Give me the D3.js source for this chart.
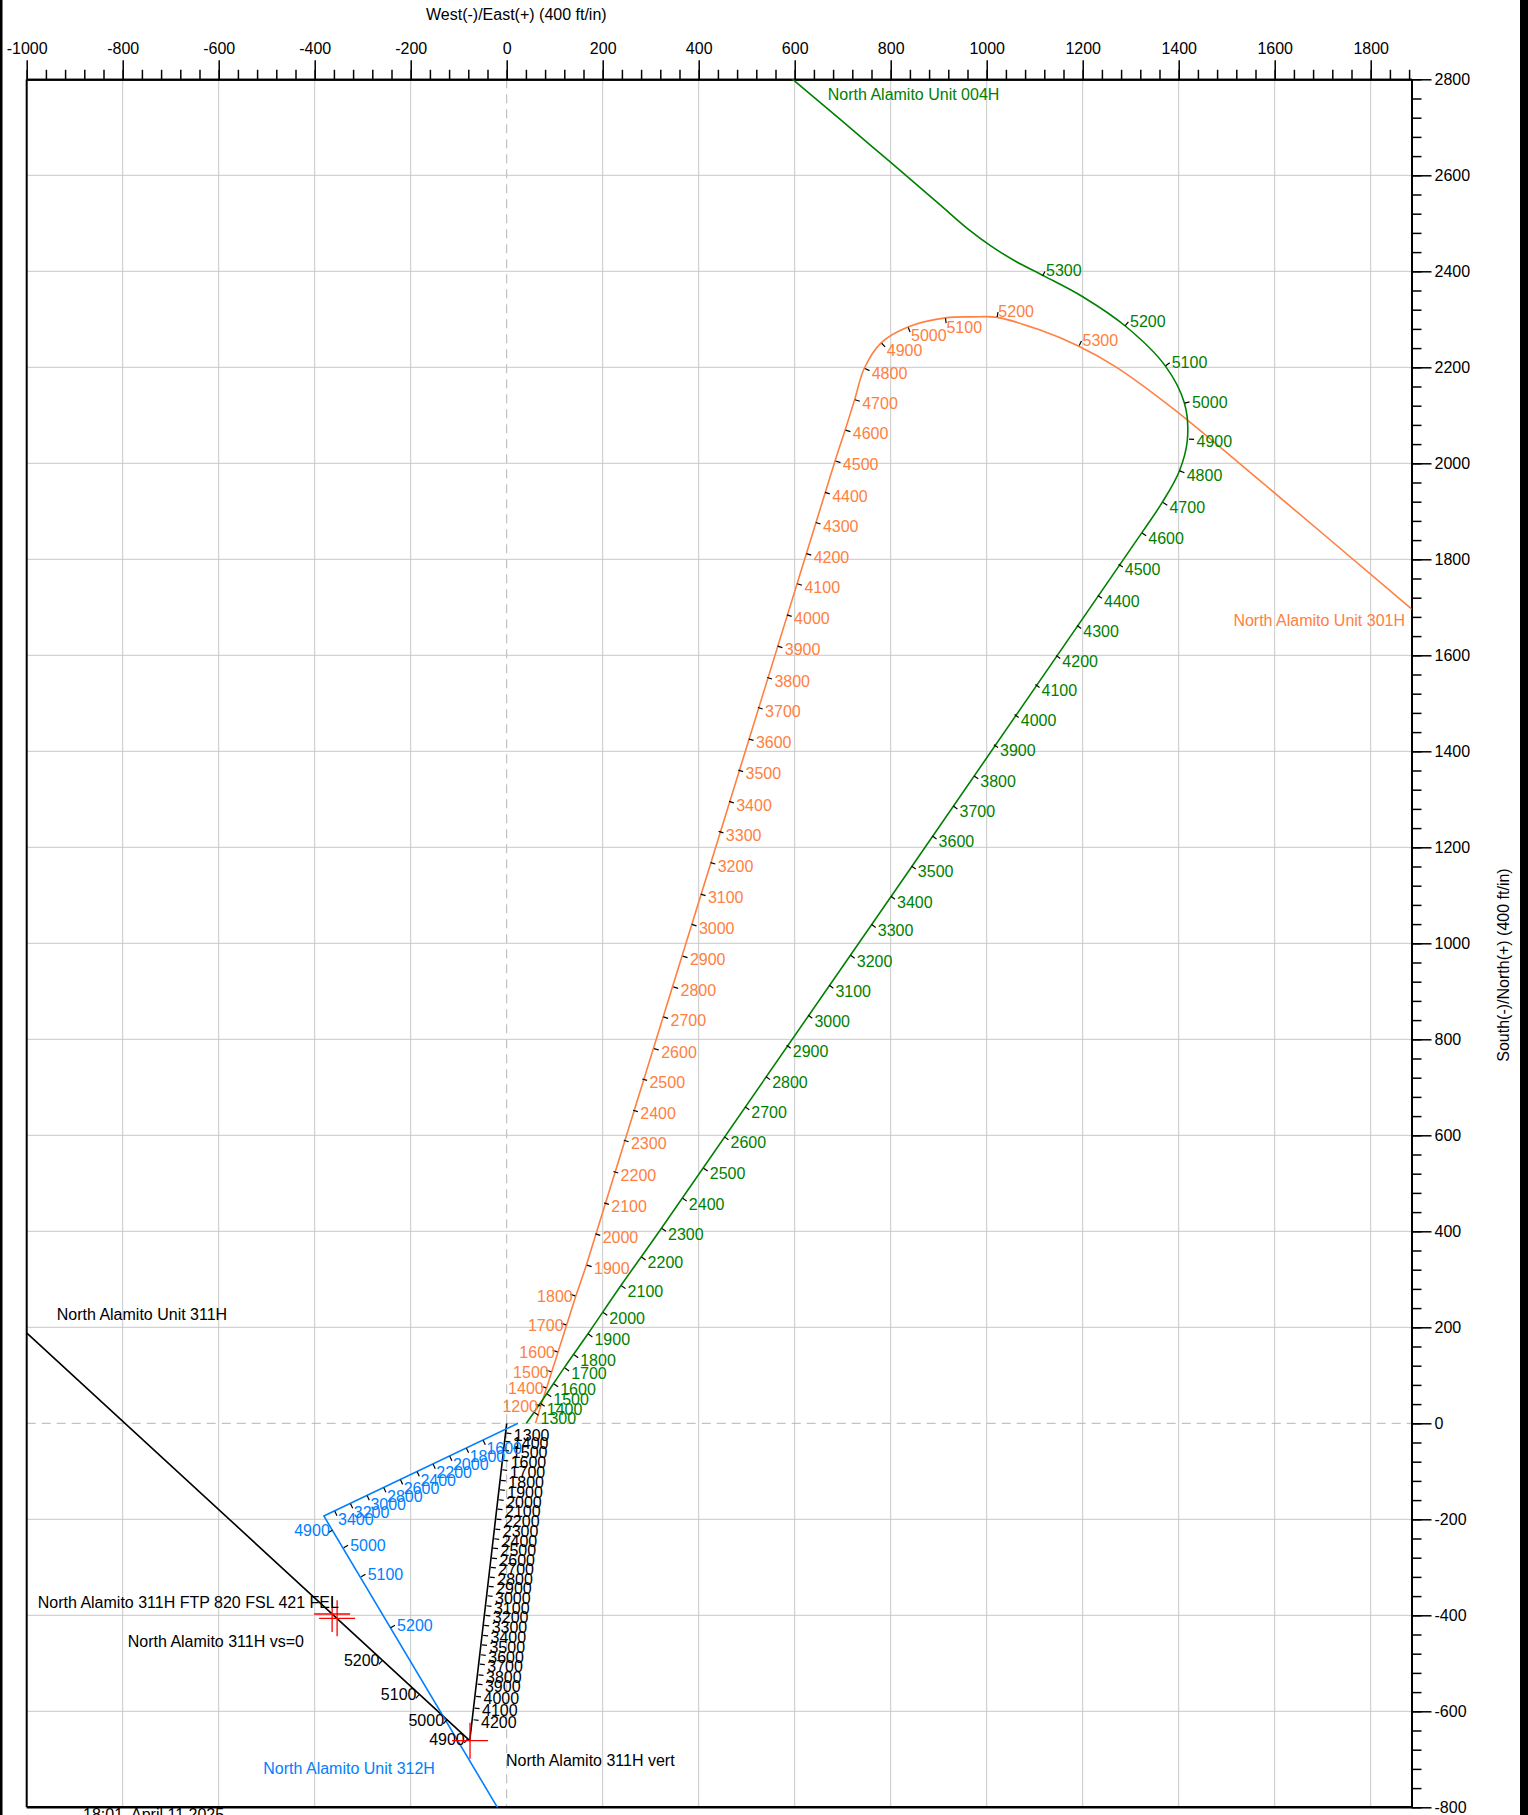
<!DOCTYPE html>
<html>
<head>
<meta charset="utf-8">
<script src="https://cdnjs.cloudflare.com/ajax/libs/d3/7.8.5/d3.min.js"></script>
<style>
  body { margin: 0; background: #fff; }
  svg { display: block; font-family: "Liberation Sans", Arial, Helvetica, sans-serif; }
</style>
</head>
<body>
<svg id="chart" width="1528" height="1815"></svg>
<script>
// axis ticks (ft)
var xTicks = [-1000, -800, -600, -400, -200, 0, 200, 400, 600, 800, 1000, 1200, 1400, 1600, 1800];
var yTicks = [2800, 2600, 2400, 2200, 2000, 1800, 1600, 1400, 1200, 1000, 800, 600, 400, 200, 0, -200, -400, -600, -800];

// well plan paths [east, north] in ft
var path004H = [[41, 0], [57, 23], [83, 61], [120, 116], [169, 186], [238, 287], [322, 406], [1323, 1855],
    [1366, 1919], [1401, 1983], [1418, 2048], [1412, 2125], [1372, 2203], [1290, 2285], [1200, 2347],
    [1120, 2390], [1060, 2421], [1010, 2452], [960, 2489], [900, 2541], [760, 2661], [597, 2799],
    [560, 2830]];
var path301H = [[60, 0], [71, 36], [83, 73.5], [107, 148.5], [144, 265], [166, 330], [684, 2005],
    [705, 2069], [725, 2133], [745, 2198], [780, 2251], [836, 2284], [914, 2303], [971, 2305],
    [1022, 2304], [1110, 2278], [1192, 2244], [1269, 2201], [1387, 2115], [1568, 1965], [1880, 1701],
    [1930, 1659]];
var path312H = [[23.5, 0], [-381, -193], [-19.4, -800], [-1, -830]];
var path311H = [[0, 0], [-77, -661], [-999, 187.5], [-1010, 197.6]];

// depth ticks [tvd, east, north]
var ticks004H = [[1300, 56.8, 23.1], [1400, 69.7, 41.9], [1500, 83.3, 61.5], [1600, 97.6, 82.3],
    [1700, 120.5, 115.6], [1800, 139.5, 143.3], [1900, 169.1, 186.5], [2000, 200.1, 231.5],
    [2100, 238.2, 287.1], [2200, 280, 347], [2300, 322.5, 406.5], [2400, 365.8, 469.4],
    [2500, 409.3, 532.1], [2600, 452.6, 597.3], [2700, 495.9, 659.8], [2800, 539.3, 722.5],
    [2900, 582.3, 788.1], [3000, 627.3, 850.6], [3100, 671.1, 913.1], [3200, 715.6, 975.6],
    [3300, 759.3, 1039.6], [3400, 799.5, 1098.5], [3500, 842.8, 1161.2], [3600, 886.1, 1224],
    [3700, 929.6, 1286.5], [3800, 972.9, 1349.2], [3900, 1014, 1414.4], [4000, 1057.2, 1477.1],
    [4100, 1100.6, 1539.6], [4200, 1143.9, 1600], [4300, 1187.4, 1662.5], [4400, 1230.7, 1725.2],
    [4500, 1274, 1790.4], [4600, 1322.8, 1855.4], [4700, 1366.5, 1918.7], [4800, 1401.2, 1984.6],
    [4900, 1420.6, 2050.6], [5000, 1411.6, 2125], [5100, 1372, 2202.7], [5200, 1288, 2286],
    [5300, 1116, 2389.4]];
var ticks301H = [[1200, 71.4, 36], [1400, 83.3, 73.5], [1500, 93.7, 107], [1600, 106.8, 148.5],
    [1700, 124.7, 204.8], [1800, 143.7, 265], [1900, 166, 329.8], [2000, 184, 394.8],
    [2100, 202, 459.4], [2200, 221.4, 524.8], [2300, 243, 590], [2400, 262.3, 652.6],
    [2500, 281.5, 717.7], [2600, 306, 781], [2700, 325.4, 847], [2800, 346.2, 909.6],
    [2900, 365.8, 973.5], [3000, 384.5, 1039.6], [3100, 403.3, 1102.7], [3200, 423.7, 1168.5],
    [3300, 440.6, 1233.5], [3400, 462.2, 1296], [3500, 481.6, 1361], [3600, 503.2, 1426],
    [3700, 522.4, 1491.5], [3800, 541.8, 1554], [3900, 563.4, 1619.4], [4000, 582.8, 1684.4],
    [4100, 604.4, 1749.4], [4200, 623.6, 1812], [4300, 642.9, 1877], [4400, 662.1, 1939.8],
    [4500, 684.4, 2005], [4600, 705.1, 2069.4], [4700, 724.7, 2132.7], [4800, 745.4, 2197.9],
    [4900, 780.4, 2250.8], [5000, 836.2, 2284], [5100, 914, 2303.3], [5200, 1021.7, 2303.7],
    [5300, 1192.4, 2244.4]];
var ticks312H = [[1600, -49.5, -34.4], [1800, -84.3, -51], [2000, -119.1, -67.7], [2200, -153.7, -84.2],
    [2400, -187, -100.2], [2600, -221.7, -116.9], [2800, -256.5, -133.5], [3000, -291.1, -150],
    [3200, -325.8, -166.7], [3400, -358.5, -182.3], [4900, -362.3, -222.3], [5000, -340.4, -259.8],
    [5100, -304, -320.2], [5200, -242.6, -426.5]];
var ticks311H = [[1300, -1.7, -20.2], [1400, -3.7, -37.5], [1500, -5.8, -56.3], [1600, -8.3, -77.1],
    [1700, -10.4, -96.7], [1800, -13.1, -118.8], [1900, -15.4, -138.3], [2000, -17.7, -159.2],
    [2100, -20, -178.5], [2200, -22.3, -199.4], [2300, -24.8, -220.2], [2400, -27.1, -240.4],
    [2500, -29.4, -259.8], [2600, -31.7, -280.6], [2700, -33.9, -300], [2800, -36.2, -320.2],
    [2900, -38.5, -339.6], [3000, -40.8, -359.2], [3100, -43.1, -380], [3200, -45.4, -400],
    [3300, -47.9, -420.8], [3400, -50.2, -441.7], [3500, -52.5, -461.3], [3600, -55, -482.1],
    [3700, -57, -501.5], [3800, -59.7, -523.8], [3900, -61.8, -543.1], [4000, -64.9, -568.8],
    [4100, -67.9, -593.1], [4200, -70, -617.5], [4900, -81.2, -657], [5000, -124.3, -617.5],
    [5100, -181.8, -564.6], [5200, -258.8, -493.8]];

// target crosses [east, north]
var targets = [[-363.7, -397.3], [-353.3, -406.2], [-76.4, -661.2]];

// annotations [text, east, north]
var notes004H = ["North Alamito Unit 004H", 668.8, 2756.9];
var notes301H = ["North Alamito Unit 301H", 1871.5, 1661];
var notes311H = ["North Alamito Unit 311H", -937.5, 215.2];
var notes312H = ["North Alamito Unit 312H", -507.1, -729.6];
var notesFTP = ["North Alamito 311H FTP 820 FSL 421 FEL", -977.1, -385.4];
var notesVS = ["North Alamito 311H vs=0", -789.6, -465.4];
var notesVert = ["North Alamito 311H vert", -1.5, -714];

var wells = [
    {path: path311H, ticks: ticks311H, color: "#000000", smooth: false, flip: [4900, 5000, 5100, 5200]},
    {path: path312H, ticks: ticks312H, color: "#0080ff", smooth: false, flip: [4900]},
    {path: path301H, ticks: ticks301H, color: "#ff8040", smooth: true, flip: [1200, 1400, 1500, 1600, 1700, 1800]},
    {path: path004H, ticks: ticks004H, color: "#008000", smooth: true, flip: []}
];

var W = 1528, H = 1815;
var x = d3.scaleLinear().domain([-1000, 1885]).range([26.7, 1411.5]);
var y = d3.scaleLinear().domain([-800, 2800]).range([1807.3, 79.3]);

var svg = d3.select("#chart");
svg.append("rect").attr("width", W).attr("height", H).attr("fill", "#fff");

svg.append("defs").append("clipPath").attr("id", "plot")
    .append("rect")
    .attr("x", x(-1000)).attr("y", y(2800))
    .attr("width", x(1885) - x(-1000)).attr("height", y(-800) - y(2800));

// grid
var grid = svg.append("g");
grid.selectAll(".gv").data(xTicks.filter(function(d) { return d > -1000; }))
    .enter().append("line")
    .attr("x1", function(d) { return x(d); }).attr("x2", function(d) { return x(d); })
    .attr("y1", y(2800)).attr("y2", y(-800))
    .attr("stroke", function(d) { return d === 0 ? "#b4b4b4" : "#c8c8c8"; })
    .attr("stroke-dasharray", function(d) { return d === 0 ? "9,6" : null; })
    .attr("stroke-width", 1);
grid.selectAll(".gh").data(yTicks.filter(function(d) { return d < 2800 && d > -800; }))
    .enter().append("line")
    .attr("x1", x(-1000)).attr("x2", x(1885))
    .attr("y1", function(d) { return y(d); }).attr("y2", function(d) { return y(d); })
    .attr("stroke", function(d) { return d === 0 ? "#b4b4b4" : "#c8c8c8"; })
    .attr("stroke-dasharray", function(d) { return d === 0 ? "9,6" : null; })
    .attr("stroke-width", 1);

// axes
function styleAxis(g) {
    g.attr("font-family", null).attr("font-size", 16);
    g.select(".domain").attr("stroke", "#000").attr("stroke-width", 2);
    g.selectAll(".tick line").attr("stroke", "#000").attr("stroke-width", 1.5);
    g.selectAll(".tick text").attr("fill", "#000");
}
var minorX = d3.range(-1000, 1885, 40);
var minorY = d3.range(-800, 2801, 40);

svg.append("g").attr("transform", "translate(0," + y(2800) + ")")
    .call(d3.axisTop(x).tickValues(minorX).tickSize(9.5).tickSizeOuter(0).tickFormat(""))
    .call(styleAxis);
svg.append("g").attr("transform", "translate(0," + y(2800) + ")")
    .call(d3.axisTop(x).tickValues(xTicks).tickSize(19).tickPadding(6).tickSizeOuter(0).tickFormat(String))
    .call(styleAxis);
svg.append("g").attr("transform", "translate(" + x(1885) + ",0)")
    .call(d3.axisRight(y).tickValues(minorY).tickSize(10).tickSizeOuter(0).tickFormat(""))
    .call(styleAxis);
svg.append("g").attr("transform", "translate(" + x(1885) + ",0)")
    .call(d3.axisRight(y).tickValues(yTicks).tickSize(20).tickPadding(3).tickSizeOuter(0).tickFormat(String))
    .call(styleAxis);

// left and bottom frame
svg.append("line").attr("x1", x(-1000)).attr("x2", x(-1000)).attr("y1", y(2800)).attr("y2", y(-800))
    .attr("stroke", "#000").attr("stroke-width", 2);
svg.append("line").attr("x1", x(-1000)).attr("x2", x(1885)).attr("y1", y(-800)).attr("y2", y(-800))
    .attr("stroke", "#000").attr("stroke-width", 2.5);

// page edges
svg.append("rect").attr("x", 0).attr("y", 0).attr("width", 2.5).attr("height", H).attr("fill", "#000");
svg.append("rect").attr("x", 1520).attr("y", 0).attr("width", 8).attr("height", H).attr("fill", "#000");

// axis titles
svg.append("text").attr("x", 426).attr("y", 20).attr("font-size", 16).attr("fill", "#000")
    .text("West(-)/East(+) (400 ft/in)");
svg.append("text").attr("transform", "translate(1509,965) rotate(-90)")
    .attr("text-anchor", "middle").attr("font-size", 16).attr("fill", "#000")
    .text("South(-)/North(+) (400 ft/in)");
svg.append("text").attr("x", 83).attr("y", 1820).attr("font-size", 16).attr("fill", "#000")
    .attr("xml:space", "preserve").text("18:01  April 11 2025");

// wells
var plot = svg.append("g").attr("clip-path", "url(#plot)");
var labels = svg.append("g").attr("font-size", 16);

wells.forEach(function(w) {
    var line = d3.line()
        .x(function(d) { return x(d[0]); })
        .y(function(d) { return y(d[1]); })
        .curve(w.smooth ? d3.curveCatmullRom.alpha(0.5) : d3.curveLinear);
    var p = plot.append("path")
        .datum(w.path)
        .attr("fill", "none")
        .attr("stroke", w.color)
        .attr("stroke-width", 1.6)
        .attr("stroke-linejoin", "round")
        .attr("d", line);

    var node = p.node(), len = node.getTotalLength(), samples = [];
    for (var l = 0; l <= len; l += 2) {
        var pt = node.getPointAtLength(l);
        samples.push([l, pt.x, pt.y]);
    }
    function dirAt(sx, sy) {
        var best = samples[0], bd = Infinity;
        samples.forEach(function(s) {
            var dd = (s[1] - sx) * (s[1] - sx) + (s[2] - sy) * (s[2] - sy);
            if (dd < bd) { bd = dd; best = s; }
        });
        var a = node.getPointAtLength(Math.max(0, best[0] - 3)),
            b = node.getPointAtLength(Math.min(len, best[0] + 3));
        var dx = b.x - a.x, dy = b.y - a.y, n = Math.sqrt(dx * dx + dy * dy) || 1;
        return [dx / n, dy / n];
    }

    w.ticks.forEach(function(t) {
        var sx = x(t[1]), sy = y(t[2]);
        var d = dirAt(sx, sy);
        var px = -d[1], py = d[0];
        if (px < 0) { px = -px; py = -py; }
        var flipped = w.flip.indexOf(t[0]) >= 0;
        if (flipped) { px = -px; py = -py; }
        labels.append("line")
            .attr("x1", sx + px * 0.5).attr("y1", sy + py * 0.5)
            .attr("x2", sx + px * 5.5).attr("y2", sy + py * 5.5)
            .attr("stroke", "#000").attr("stroke-width", 1.2);
        var txt = labels.append("text").attr("fill", w.color).text(String(t[0]));
        if (flipped) {
            txt.attr("text-anchor", "end").attr("x", sx - 3).attr("y", sy + 6);
        } else {
            txt.attr("x", sx + px * 8).attr("y", sy + py * 8 + 7);
        }
    });
});

// target crosses
var cross = svg.append("g").attr("stroke", "#ff0000").attr("stroke-width", 1.3);
targets.forEach(function(t) {
    var cx = x(t[0]), cy = y(t[1]);
    cross.append("line").attr("x1", cx - 18).attr("x2", cx + 18).attr("y1", cy).attr("y2", cy);
    cross.append("line").attr("x1", cx).attr("x2", cx).attr("y1", cy - 18).attr("y2", cy + 18);
});

// annotations
function note(n, color, anchor) {
    svg.append("text").attr("x", x(n[1])).attr("y", y(n[2]))
        .attr("font-size", 16).attr("fill", color)
        .attr("text-anchor", anchor || "start")
        .text(n[0]);
}
note(notes004H, "#008000");
note(notes301H, "#ff8040", "end");
note(notes311H, "#000");
note(notes312H, "#0080ff");
note(notesFTP, "#000");
note(notesVS, "#000");
note(notesVert, "#000");
</script>
</body>
</html>
